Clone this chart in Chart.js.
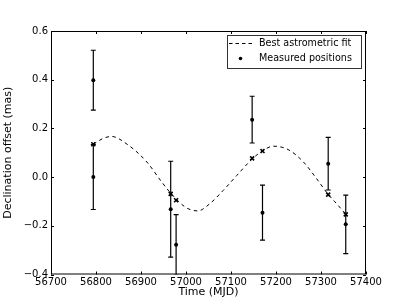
<!DOCTYPE html>
<html>
<head>
<meta charset="utf-8">
<script src="https://cdn.jsdelivr.net/npm/chart.js@4.4.1/dist/chart.umd.min.js"></script>
<style>
html,body{margin:0;padding:0;background:#fff;}
#wrap{width:407px;height:305px;}
</style>
</head>
<body>
<div id="wrap"><canvas id="c" width="407" height="305"></canvas></div>
<script>
// ---- data ----
const fitTimes = [56794, 56815, 56834, 56872, 56913, 56946, 56967, 56998, 57009, 57026, 57053, 57083, 57113, 57148, 57170, 57194, 57227, 57261, 57290, 57316, 57338, 57355];
const fitValues = [0.135, 0.158, 0.167, 0.131, 0.062, -0.020, -0.068, -0.123, -0.133, -0.139, -0.109, -0.054, 0.007, 0.076, 0.108, 0.127, 0.113, 0.062, -0.006, -0.071, -0.116, -0.153];

const obsTimes = [56794, 56794, 56966, 56978, 57147, 57170, 57316, 57355];
const obsValues = [0.398, 0.000, -0.132, -0.278, 0.236, -0.146, 0.055, -0.194];
const obsErrors = [0.123, 0.133, 0.197, 0.124, 0.096, 0.113, 0.108, 0.120];

const modelTimes = [56794, 56966, 56978, 57147, 57170, 57316, 57355];
const modelValues = [0.135, -0.069, -0.095, 0.077, 0.107, -0.072, -0.153];

const xTicks = [56700, 56800, 56900, 57000, 57100, 57200, 57300, 57400];
const yTicks = [-0.4, -0.2, 0.0, 0.2, 0.4, 0.6];

const legendLabels = ['Best astrometric fit', 'Measured positions'];
const xTitle = 'Time (MJD)';
const yTitle = 'Declination offset (mas)';

const FONT = 'DejaVu Sans';

const frame = {
  id: 'frame',
  beforeDatasetsDraw(chart) {
    const {ctx, chartArea: a, scales} = chart;
    ctx.save();
    ctx.beginPath();
    ctx.rect(a.left, a.top, a.right - a.left, a.bottom - a.top);
    ctx.clip();
    ctx.strokeStyle = '#000';
    ctx.lineWidth = 1.2;
    for (let i = 0; i < obsTimes.length; i++) {
      const x = scales.x.getPixelForValue(obsTimes[i]);
      const y1 = scales.y.getPixelForValue(obsValues[i] + obsErrors[i]);
      const y2 = scales.y.getPixelForValue(obsValues[i] - obsErrors[i]);
      ctx.beginPath();
      ctx.moveTo(x, y1); ctx.lineTo(x, y2);
      ctx.moveTo(x - 2.5, y1); ctx.lineTo(x + 2.5, y1);
      ctx.moveTo(x - 2.5, y2); ctx.lineTo(x + 2.5, y2);
      ctx.stroke();
    }
    ctx.restore();
  },
  afterDraw(chart) {
    const {ctx, chartArea: a, scales} = chart;
    ctx.save();
    ctx.strokeStyle = '#000';
    ctx.lineWidth = 1;
    ctx.strokeRect(a.left + 0.5, a.top + 0.5, a.right - a.left - 1, a.bottom - a.top - 1);
    const tl = 3;
    ctx.beginPath();
    xTicks.forEach(v => {
      const x = Math.round(scales.x.getPixelForValue(v)) + 0.5;
      ctx.moveTo(x, a.bottom); ctx.lineTo(x, a.bottom - tl);
      ctx.moveTo(x, a.top); ctx.lineTo(x, a.top + tl);
    });
    yTicks.forEach(v => {
      const y = Math.round(scales.y.getPixelForValue(v)) + 0.5;
      ctx.moveTo(a.left, y); ctx.lineTo(a.left + tl, y);
      ctx.moveTo(a.right, y); ctx.lineTo(a.right - tl, y);
    });
    ctx.stroke();

    // legend
    const lx = 227, ly = 35, lw = 134, lh = 33;
    ctx.fillStyle = '#fff';
    ctx.fillRect(lx, ly, lw, lh);
    ctx.strokeStyle = '#333';
    ctx.lineWidth = 1;
    ctx.strokeRect(lx + 0.5, ly + 0.5, lw, lh);
    ctx.strokeStyle = '#000';
    ctx.setLineDash([3.5, 3]);
    ctx.beginPath();
    ctx.moveTo(229, 43.5); ctx.lineTo(252, 43.5);
    ctx.stroke();
    ctx.setLineDash([]);
    ctx.fillStyle = '#000';
    ctx.beginPath();
    ctx.arc(240.5, 58.5, 1.8, 0, Math.PI * 2);
    ctx.fill();
    ctx.font = '9.6px "' + FONT + '"';
    ctx.textBaseline = 'middle';
    ctx.textAlign = 'left';
    ctx.fillText(legendLabels[0], 259, 43.5);
    ctx.fillText(legendLabels[1], 259, 58.5);
    ctx.restore();
  }
};

new Chart(document.getElementById('c'), {
  type: 'scatter',
  data: {
    datasets: [
      {
        type: 'line',
        label: legendLabels[0],
        data: fitTimes.map((t, i) => ({x: t, y: fitValues[i]})),
        borderColor: '#000',
        borderWidth: 1,
        borderDash: [3.5, 3.5],
        pointRadius: 0,
        fill: false,
        cubicInterpolationMode: 'monotone',
        order: 3
      },
      {
        label: 'Model positions',
        data: modelTimes.map((t, i) => ({x: t, y: modelValues[i]})),
        pointStyle: 'crossRot',
        pointRadius: 2.8,
        borderColor: '#000',
        borderWidth: 1.6,
        order: 2
      },
      {
        label: legendLabels[1],
        data: obsTimes.map((t, i) => ({x: t, y: obsValues[i]})),
        pointStyle: 'circle',
        pointRadius: 2,
        backgroundColor: '#000',
        borderColor: '#000',
        borderWidth: 0,
        order: 1
      }
    ]
  },
  options: {
    responsive: false,
    animation: false,
    devicePixelRatio: 1,
    layout: {padding: {left: 0, top: 31, right: 41, bottom: 0}},
    plugins: {legend: {display: false}, tooltip: {enabled: false}},
    scales: {
      x: {
        type: 'linear',
        min: 56700, max: 57400,
        afterFit(s) { s.height = 30.5; },
        afterBuildTicks(s) { s.ticks = xTicks.map(v => ({value: v})); },
        grid: {display: false, drawTicks: false},
        border: {display: false},
        ticks: {
          color: '#000',
          font: {family: FONT, size: 10},
          padding: 2,
          maxRotation: 0,
          autoSkip: false,
          callback: v => String(v)
        },
        title: {
          display: true, text: xTitle, color: '#000',
          font: {family: FONT, size: 11},
          padding: {top: 0, bottom: 6}
        }
      },
      y: {
        type: 'linear',
        min: -0.4, max: 0.6,
        afterFit(s) { s.width = 51; },
        afterBuildTicks(s) { s.ticks = yTicks.map(v => ({value: v})); },
        grid: {display: false, drawTicks: false},
        border: {display: false},
        ticks: {
          color: '#000',
          font: {family: FONT, size: 10},
          padding: 3,
          autoSkip: false,
          callback: v => { const r = Math.round(v * 10) / 10; return (r < 0 ? '\u2212' : '') + Math.abs(r).toFixed(1); }
        },
        title: {
          display: true, text: yTitle, color: '#000',
          font: {family: FONT, size: 11},
          padding: {top: 2, bottom: 0}
        }
      }
    }
  },
  plugins: [frame]
});
</script>
</body>
</html>
